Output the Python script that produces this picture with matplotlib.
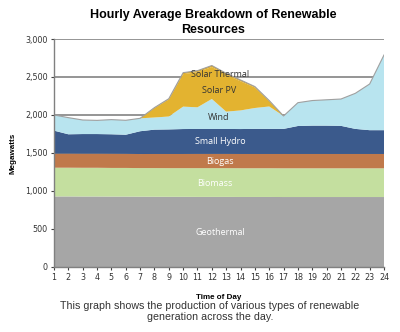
import matplotlib
matplotlib.use("Agg")
import matplotlib.pyplot as plt
import numpy as np

# hourly values (MW)
hours = list(range(1, 25))
geothermal = [928, 928, 927, 927, 926, 926, 925, 924, 923, 923, 922, 922,
              922, 921, 921, 921, 920, 920, 920, 920, 920, 920, 920, 920]
biomass = [378, 378, 378, 378, 377, 377, 376, 377, 377, 377, 378, 378,
           378, 378, 378, 378, 378, 378, 378, 378, 378, 378, 378, 378]
biogas = [186, 186, 186, 186, 187, 186, 185, 186, 187, 187, 188, 188,
          188, 188, 188, 188, 189, 189, 189, 189, 189, 189, 189, 189]
small_hydro = [302, 254, 258, 258, 256, 251, 300, 320, 323, 328, 328, 328,
               328, 328, 330, 330, 330, 368, 373, 373, 370, 330, 313, 313]
wind = [206, 219, 185, 180, 193, 190, 170, 160, 170, 295, 285, 395,
        228, 245, 275, 295, 170, 307, 330, 340, 353, 468, 608, 990]
solar_pv = [0, 0, 0, 0, 0, 0, 0, 125, 224, 427, 462, 420,
            485, 383, 270, 70, 0, 0, 0, 0, 0, 0, 0, 0]
solar_thermal = [0, 0, 0, 0, 0, 0, 0, 5, 10, 20, 20, 20,
                 20, 18, 12, 8, 0, 0, 0, 0, 0, 0, 0, 0]

labels = ["Geothermal", "Biomass", "Biogas", "Small Hydro", "Wind",
          "Solar PV", "Solar Thermal"]
colors = ["#A6A6A6", "#C4DF9F", "#C0794B", "#3B5A8C", "#B8E4EF",
          "#E3B330", "#DBA828"]

fig = plt.figure(figsize=(4, 3.32), dpi=100)
ax = fig.add_axes([0.135, 0.196, 0.825, 0.6865])

ax.set_axisbelow(True)
ax.grid(axis="y", color="#8C8C8C", linewidth=1.3)

series = [geothermal, biomass, biogas, small_hydro, wind, solar_pv, solar_thermal]
ax.stackplot(hours, *series, colors=colors, linewidth=0)

total = np.sum(np.array(series), axis=0)
ax.plot(hours, total, color="#A0A0A0", linewidth=0.8)

ax.set_xlim(1, 24)
ax.set_ylim(0, 3000)
ax.set_xticks(hours)
ax.set_yticks(range(0, 3001, 500))
ax.set_yticklabels([f"{v:,}" for v in range(0, 3001, 500)])
ax.tick_params(labelsize=5.8, colors="#404040", length=2.5, width=0.8,
               pad=2, labelcolor="#333333")
for s in ["top", "right"]:
    ax.spines[s].set_visible(False)
for s in ["left", "bottom"]:
    ax.spines[s].set_color("#808080")
    ax.spines[s].set_linewidth(1.0)

ax.set_ylabel("Megawatts", fontsize=5.8, fontweight="bold",
              family="Liberation Sans")
ax.yaxis.set_label_coords(-0.115, 0.5)
ax.set_xlabel("Time of Day", fontsize=5.8, fontweight="bold",
              family="Liberation Sans")
ax.xaxis.set_label_coords(0.5, -0.118)

# labels inside the areas
txt = dict(fontsize=6.5, ha="center", va="center", family="Open Sans")
ax.text(12.6, 451, "Geothermal", color="white", **txt)
ax.text(12.2, 1101, "Biomass", color="white", **txt)
ax.text(12.6, 1386, "Biogas", color="white", **txt)
ax.text(12.6, 1649, "Small Hydro", color="white", **txt)
ax.text(12.5, 1965, "Wind", color="#333333", **txt)
ax.text(12.5, 2316, "Solar PV", color="#333333", **txt)
ax.text(12.6, 2535, "Solar Thermal", color="#333333", **txt)

fig.text(0.533, 0.932, "Hourly Average Breakdown of Renewable\nResources",
         ha="center", va="center", fontsize=9, fontweight="bold",
         family="Liberation Sans", linespacing=1.25)

fig.text(0.525, 0.062, "This graph shows the production of various types of renewable\n"
         "generation across the day.", ha="center", va="center", fontsize=7.7,
         color="#333333", family="Liberation Sans", linespacing=1.05)

fig.savefig("out.png", dpi=100)
